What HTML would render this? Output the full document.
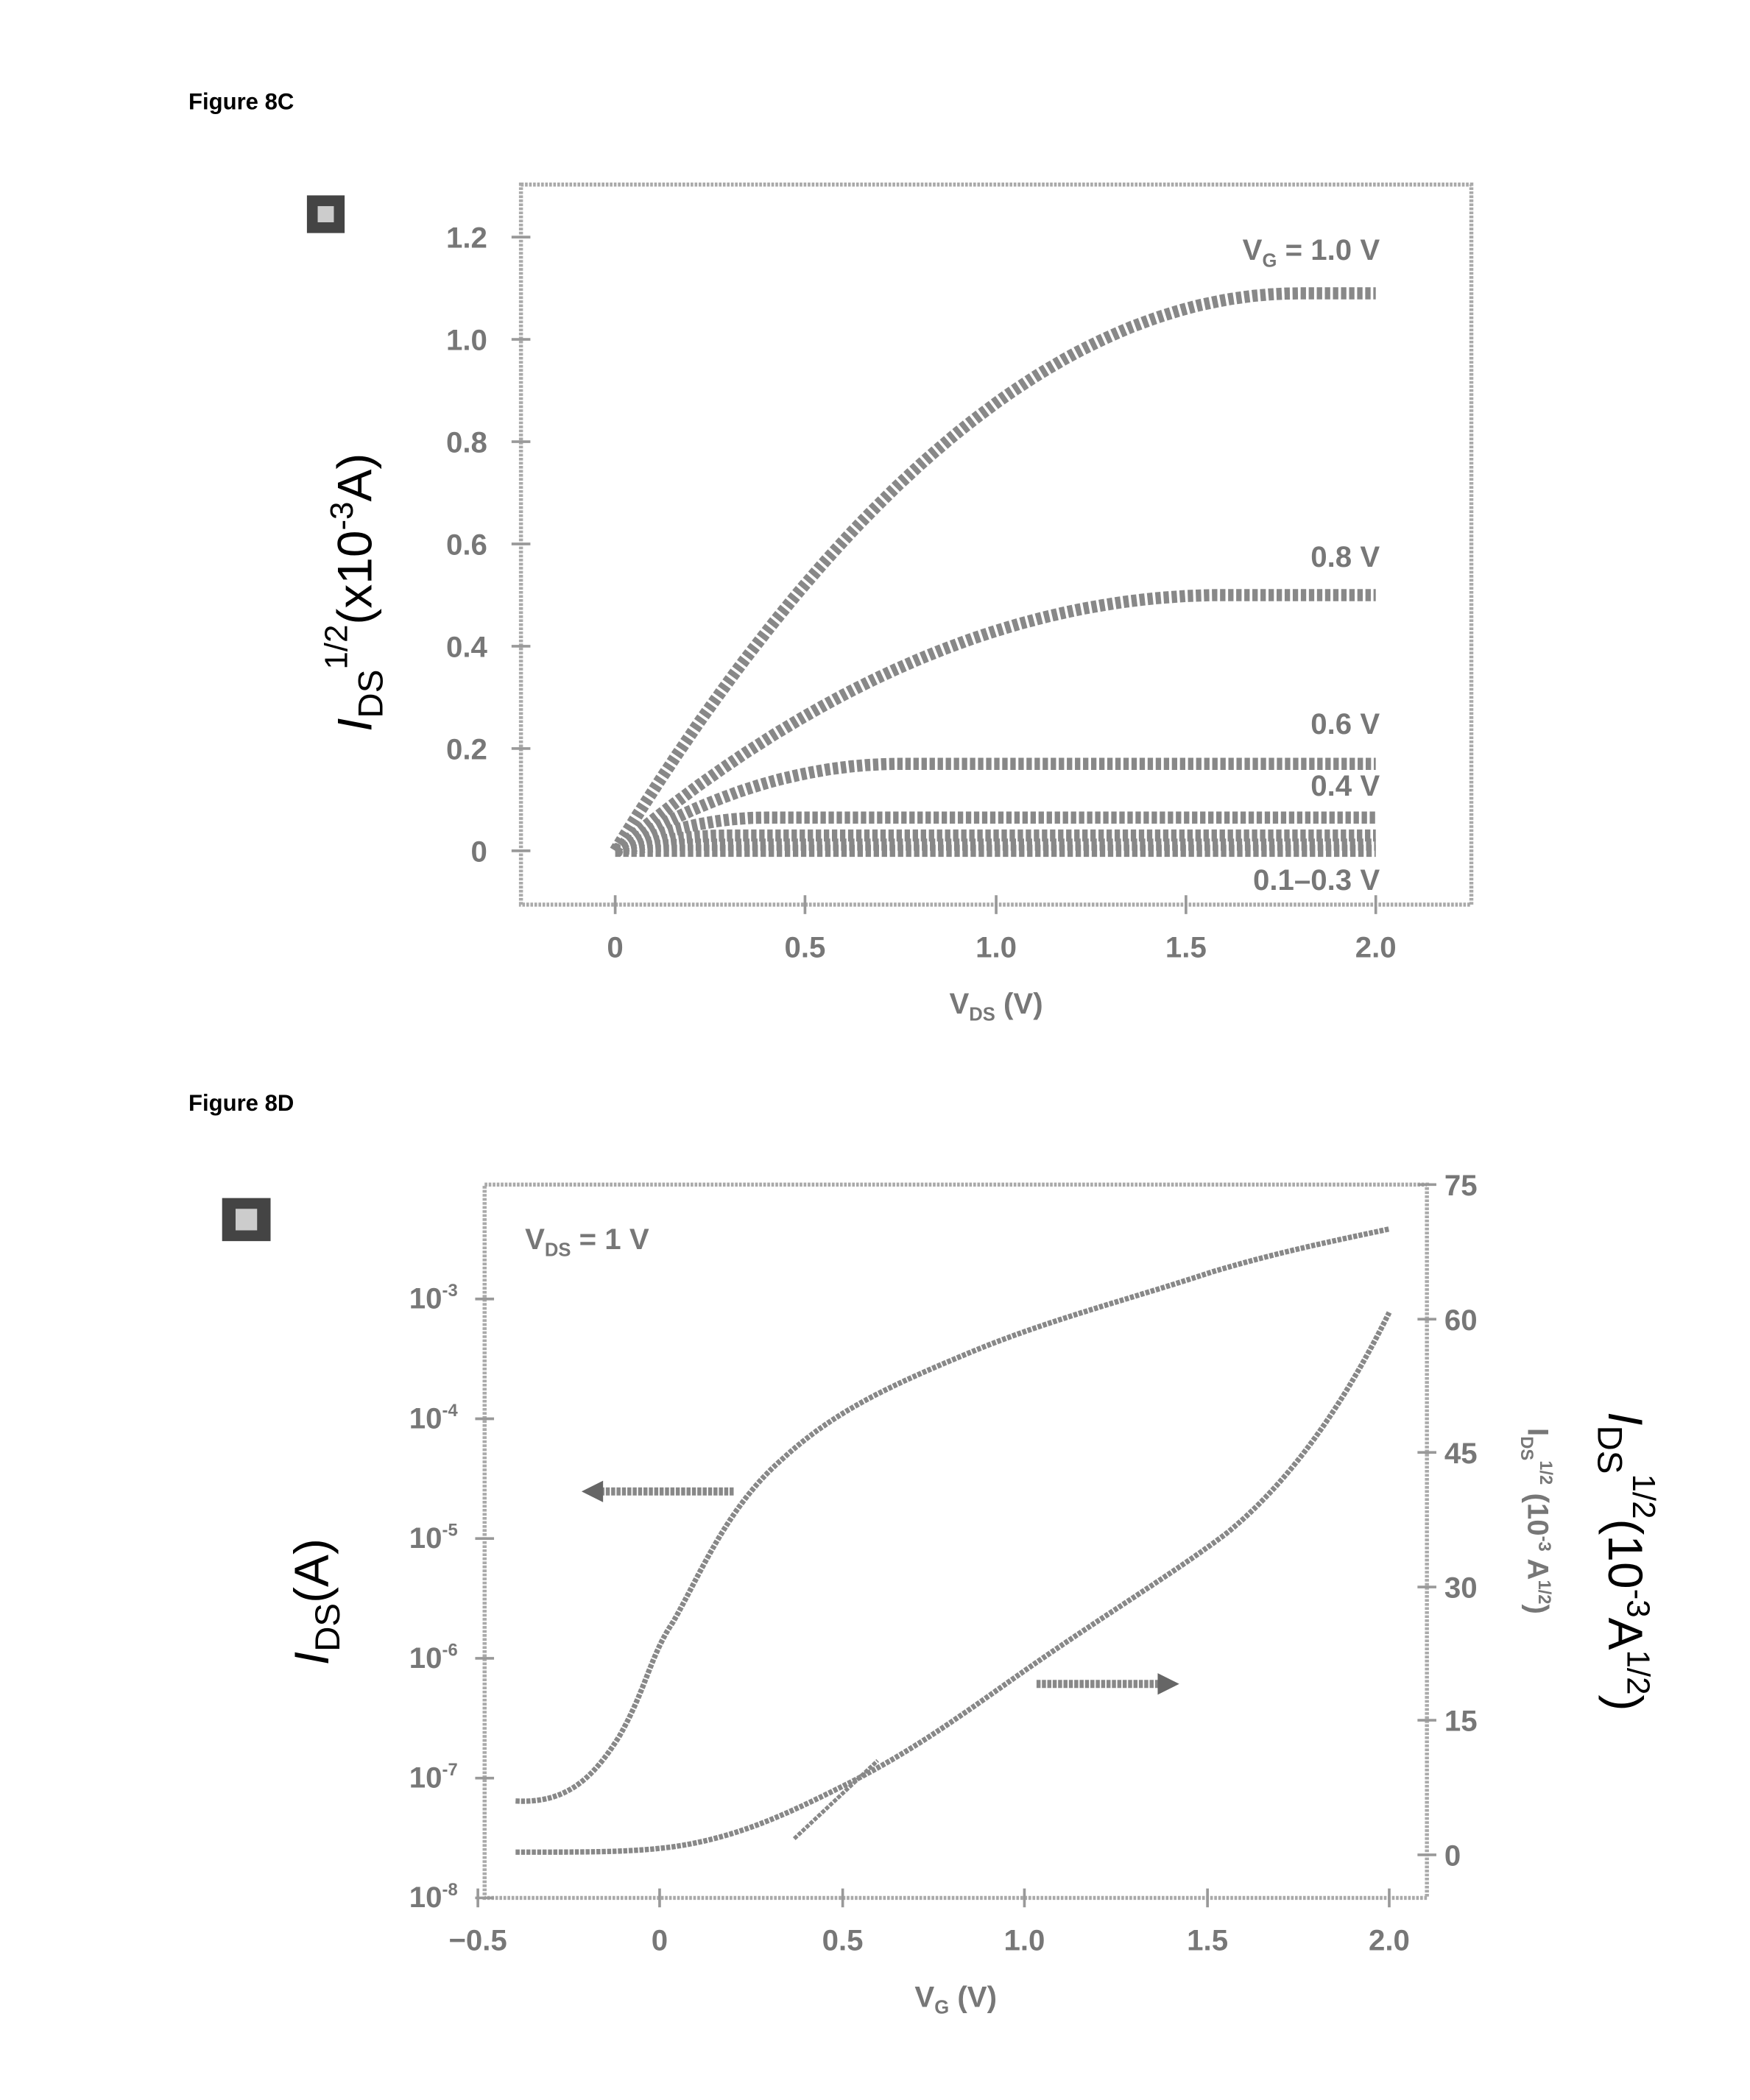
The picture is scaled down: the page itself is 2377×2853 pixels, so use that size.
<!DOCTYPE html>
<html><head><meta charset="utf-8"><style>
html,body{margin:0;padding:0;background:#fff;}
svg{display:block;}
text{font-family:"Liberation Sans",sans-serif;}
.t{font-size:22px;font-weight:bold;fill:#777;}
.h{font-size:17px;font-weight:bold;fill:#000;}
</style></head><body>
<svg width="2377" height="2853" viewBox="0 0 1300 1560" xmlns="http://www.w3.org/2000/svg">
<text x="140" y="81" class="h">Figure 8C</text>
<text x="140" y="825" class="h">Figure 8D</text>

<!-- Top plot -->
<rect x="387" y="137" width="706" height="535" fill="none" stroke="#aaa" stroke-width="3" stroke-dasharray="2 1"/>
<rect x="228" y="145" width="28" height="28" fill="#444"/><rect x="236" y="153" width="12" height="12" fill="#ccc"/>
<g stroke="#999" stroke-width="2">
<line x1="380" y1="176" x2="394" y2="176"/><line x1="380" y1="252" x2="394" y2="252"/><line x1="380" y1="328" x2="394" y2="328"/><line x1="380" y1="404" x2="394" y2="404"/><line x1="380" y1="480" x2="394" y2="480"/><line x1="380" y1="556" x2="394" y2="556"/><line x1="380" y1="632" x2="394" y2="632"/>
<line x1="457" y1="665" x2="457" y2="679"/><line x1="598" y1="665" x2="598" y2="679"/><line x1="740" y1="665" x2="740" y2="679"/><line x1="881" y1="665" x2="881" y2="679"/><line x1="1022" y1="665" x2="1022" y2="679"/>
</g>
<g class="t" text-anchor="end">
<text x="362" y="184">1.2</text><text x="362" y="260">1.0</text><text x="362" y="336">0.8</text><text x="362" y="412">0.6</text><text x="362" y="488">0.4</text><text x="362" y="564">0.2</text><text x="362" y="640">0</text>
</g>
<g class="t" text-anchor="middle">
<text x="457" y="711">0</text><text x="598" y="711">0.5</text><text x="740" y="711">1.0</text><text x="881" y="711">1.5</text><text x="1022" y="711">2.0</text>
<text x="740" y="753">V<tspan font-size="14" dy="5">DS</tspan><tspan dy="-5"> (V)</tspan></text>
</g>
<text transform="translate(276,440) rotate(-90)" text-anchor="middle" font-size="36" fill="#000"><tspan font-style="italic">I</tspan><tspan font-size="26" dy="8">DS</tspan><tspan font-size="24" dy="-26">1/2</tspan><tspan dy="18">(x10</tspan><tspan font-size="24" dy="-14">-3</tspan><tspan dy="14">A)</tspan></text>
<g class="t" text-anchor="end">
<text x="1025" y="193">V<tspan font-size="14" dy="5">G</tspan><tspan dy="-5"> = 1.0 V</tspan></text>
<text x="1025" y="421">0.8 V</text><text x="1025" y="545">0.6 V</text><text x="1025" y="591">0.4 V</text><text x="1025" y="661">0.1–0.3 V</text>
</g>
<g id="topcurves" fill="none" stroke="#888" stroke-width="9" stroke-dasharray="4 2"></g>

<!-- Bottom plot -->
<rect x="360" y="880" width="700" height="530" fill="none" stroke="#aaa" stroke-width="3" stroke-dasharray="2 1"/>
<rect x="165" y="890" width="36" height="32" fill="#444"/><rect x="175" y="898" width="16" height="16" fill="#ccc"/>
<g stroke="#999" stroke-width="2">
<line x1="353" y1="965" x2="367" y2="965"/><line x1="353" y1="1054" x2="367" y2="1054"/><line x1="353" y1="1143" x2="367" y2="1143"/><line x1="353" y1="1232" x2="367" y2="1232"/><line x1="353" y1="1321" x2="367" y2="1321"/><line x1="353" y1="1410" x2="367" y2="1410"/>
<line x1="1053" y1="880" x2="1067" y2="880"/><line x1="1053" y1="980" x2="1067" y2="980"/><line x1="1053" y1="1079" x2="1067" y2="1079"/><line x1="1053" y1="1179" x2="1067" y2="1179"/><line x1="1053" y1="1278" x2="1067" y2="1278"/><line x1="1053" y1="1378" x2="1067" y2="1378"/>
<line x1="355" y1="1403" x2="355" y2="1417"/><line x1="490" y1="1403" x2="490" y2="1417"/><line x1="626" y1="1403" x2="626" y2="1417"/><line x1="761" y1="1403" x2="761" y2="1417"/><line x1="897" y1="1403" x2="897" y2="1417"/><line x1="1032" y1="1403" x2="1032" y2="1417"/>
</g>
<g class="t" text-anchor="end">
<text x="340" y="972">10<tspan font-size="13" dy="-9">-3</tspan></text>
<text x="340" y="1061">10<tspan font-size="13" dy="-9">-4</tspan></text>
<text x="340" y="1150">10<tspan font-size="13" dy="-9">-5</tspan></text>
<text x="340" y="1239">10<tspan font-size="13" dy="-9">-6</tspan></text>
<text x="340" y="1328">10<tspan font-size="13" dy="-9">-7</tspan></text>
<text x="340" y="1417">10<tspan font-size="13" dy="-9">-8</tspan></text>
</g>
<g class="t" text-anchor="start">
<text x="1073" y="888">75</text><text x="1073" y="988">60</text><text x="1073" y="1087">45</text><text x="1073" y="1187">30</text><text x="1073" y="1286">15</text><text x="1073" y="1386">0</text>
</g>
<g class="t" text-anchor="middle">
<text x="355" y="1449">−0.5</text><text x="490" y="1449">0</text><text x="626" y="1449">0.5</text><text x="761" y="1449">1.0</text><text x="897" y="1449">1.5</text><text x="1032" y="1449">2.0</text>
<text x="710" y="1491">V<tspan font-size="14" dy="5">G</tspan><tspan dy="-5"> (V)</tspan></text>
</g>
<text x="390" y="928" class="t">V<tspan font-size="14" dy="5">DS</tspan><tspan dy="-5"> = 1 V</tspan></text>
<text transform="translate(1135,1130) rotate(90)" text-anchor="middle" class="t" font-size="20">I<tspan font-size="13" dy="5">DS</tspan><tspan font-size="13" dy="-14">1/2</tspan><tspan dy="9"> (10</tspan><tspan font-size="13" dy="-8">-3</tspan><tspan dy="8"> A</tspan><tspan font-size="13" dy="-8">1/2</tspan><tspan dy="8">)</tspan></text>
<text transform="translate(1195,1160) rotate(90)" text-anchor="middle" font-size="36" fill="#000"><tspan font-style="italic">I</tspan><tspan font-size="26" dy="8">DS</tspan><tspan font-size="24" dy="-26">1/2</tspan><tspan dy="18">(10</tspan><tspan font-size="24" dy="-14">-3</tspan><tspan dy="14">A</tspan><tspan font-size="24" dy="-14">1/2</tspan><tspan dy="14">)</tspan></text>
<text transform="translate(244,1190) rotate(-90)" text-anchor="middle" font-size="36" fill="#000"><tspan font-style="italic">I</tspan><tspan font-size="26" dy="8">DS</tspan><tspan dy="-8">(A)</tspan></text>
<g fill="none" stroke="#888" stroke-width="4" stroke-dasharray="3 1">
<path d="M383,1338 C420,1340 440,1322 460,1290 C480,1255 483,1230 500,1205 C520,1170 540,1120 580,1085 C620,1048 660,1030 720,1005 C780,980 840,965 900,945 C950,930 990,922 1032,913"/>
<path d="M383,1376 C440,1376 470,1376 500,1372 C550,1365 590,1345 630,1325 C680,1300 720,1270 760,1242 C820,1200 870,1170 910,1140 C960,1100 1000,1040 1032,975"/>
<path d="M590,1366 L652,1308" stroke-width="3"/>
<line x1="545" y1="1108" x2="440" y2="1108" stroke-width="6"/>
<line x1="770" y1="1251" x2="868" y2="1251" stroke-width="6"/>
</g>
<polygon points="432,1108 448,1100 448,1116" fill="#666"/>
<polygon points="876,1251 860,1243 860,1259" fill="#666"/>
</svg>
<script>
(function(){
var g=document.getElementById('topcurves');
var X=function(v){return 457+v*282.5;}, Y=function(i){return 632-i*380;};
var c=[[1.09,1.8],[0.50,1.6],[0.17,0.75],[0.065,0.4],[0.03,0.3],[0.012,0.2],[0,0.1]];
c.forEach(function(p){
 var d='';
 for(var k=0;k<=100;k++){var v=k*0.02;var u=Math.min(v,p[1])/p[1];var i=p[0]*(1-(1-u)*(1-u));
  d+=(k?'L':'M')+X(v).toFixed(1)+','+Y(i).toFixed(1);}
 var e=document.createElementNS('http://www.w3.org/2000/svg','path');
 e.setAttribute('d',d);g.appendChild(e);
});
})();
</script>
</body></html>
